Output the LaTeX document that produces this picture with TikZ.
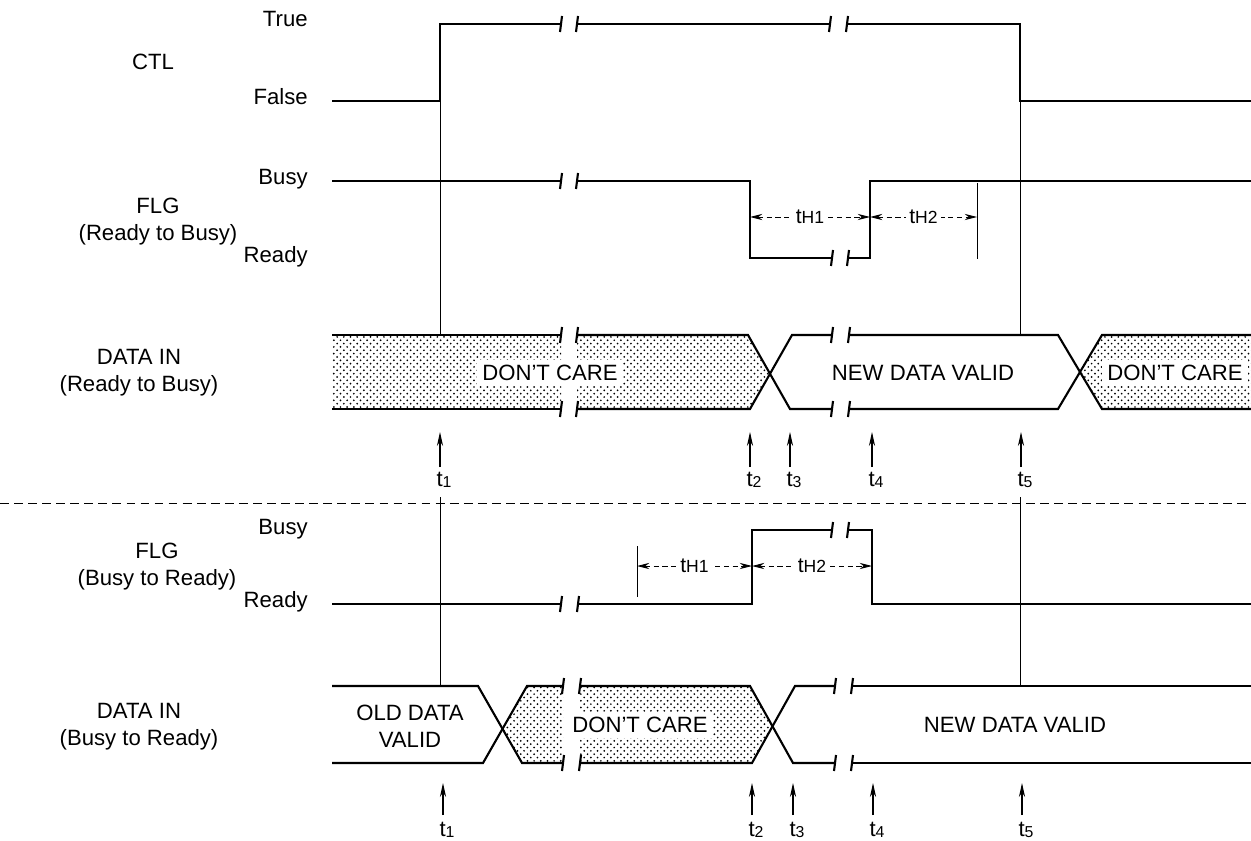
\documentclass[tikz,border=0pt]{standalone}
\usepackage{fontspec}
\setmainfont{Liberation Sans}
\usetikzlibrary{arrows.meta, patterns}

\pgfdeclarepatternformonly{coarsedots}{\pgfqpoint{-1pt}{-1pt}}{\pgfqpoint{5pt}{5pt}}{\pgfqpoint{3.8pt}{3.8pt}}{%
  \pgfpathcircle{\pgfqpoint{0pt}{0pt}}{0.55pt}
  \pgfpathcircle{\pgfqpoint{1.9pt}{1.9pt}}{0.55pt}
  \pgfusepath{fill}
}

\newcommand{\sigbreak}[3]{%
  \draw[sig] (#1+1,#3-8) -- (#1-1,#3+8);
  \draw[sig] (#2+1,#3-8) -- (#2-1,#3+8);
}
\newcommand{\tsub}[1]{t\raisebox{-0.5pt}{\fontsize{9}{9}\selectfont #1}}
\newcommand{\thsub}[1]{t{\fontsize{10}{10}\selectfont H#1}}

\begin{document}
\begin{tikzpicture}[x=0.02cm, y=-0.02cm, every node/.style={font=\fontsize{12.6}{15.3}\selectfont}]
    \tikzstyle{sig} = [line width=1.2pt, line join=miter]
    \tikzstyle{refline} = [line width=0.5pt]
    \tikzstyle{dontcare} = [pattern=coarsedots]
    \tikzstyle{lvl} = [anchor=mid east, inner sep=0pt]
    \tikzstyle{signame} = [align=center, inner sep=0pt]
    \tikzstyle{tmark} = [line width=0.6pt, -{Stealth[length=8pt, width=3.5pt]}]
    \tikzstyle{tlbl} = [inner sep=0pt]
    \tikzstyle{dimline} = [line width=0.5pt, densely dashed, {Stealth[length=7pt, width=3.5pt]}-{Stealth[length=7pt, width=3.5pt]}]
    \tikzstyle{dimlbl} = [fill=white, inner sep=2pt, font=\fontsize{12}{12}\selectfont]
    \tikzstyle{datatxt} = [fill=white, inner sep=3pt, align=center]

    \useasboundingbox (0,0) rectangle (1251,841);

    % signal names and levels
    \node[signame] (ctl) at (153,62) {CTL};
    \node[lvl] (ctltrue) at (308,22) {True};
    \node[lvl] (ctlfalse) at (308,100) {False};
    \node[signame] (flgrb) at (158,222) {FLG\\(Ready to Busy)};
    \node[lvl] (flgrbbusy) at (308,180) {Busy};
    \node[lvl] (flgrbready) at (308,258) {Ready};
    \node[signame] (datarb) at (139,373) {DATA IN\\(Ready to Busy)};
    \node[signame] (flgbr) at (157,567) {FLG\\(Busy to Ready)};
    \node[lvl] (flgbrbusy) at (308,530) {Busy};
    \node[lvl] (flgbrready) at (308,603) {Ready};
    \node[signame] (databr) at (139,727) {DATA IN\\(Busy to Ready)};

    % separator
    \draw[line width=0.5pt, dash pattern=on 5pt off 3pt] (0,503) -- (1251,503);

    % reference lines at t1 and t5
    \draw[refline] (440,101) -- (440,335);
    \draw[refline] (440,497) -- (440,686);
    \draw[refline] (1020,101) -- (1020,335);
    \draw[refline] (1020,497) -- (1020,686);

    % CTL
    \draw[sig] (332,101) -- (440,101) -- (440,24) -- (561,24);
    \draw[sig] (577,24) -- (830,24);
    \draw[sig] (847,24) -- (1020,24) -- (1020,101) -- (1251,101);
    \sigbreak{561}{577}{24}
    \sigbreak{830}{847}{24}

    % FLG (Ready to Busy)
    \draw[sig] (332,181) -- (561,181);
    \draw[sig] (577,181) -- (750,181) -- (750,258) -- (832,258);
    \draw[sig] (848,258) -- (870,258) -- (870,181) -- (1251,181);
    \sigbreak{561}{577}{181}
    \sigbreak{832}{848}{258}
    \draw[refline] (977,183) -- (977,259);
    \draw[dimline] (750,217) -- node[dimlbl] (th1a) {\thsub{1}} (870,217);
    \draw[dimline] (870,217) -- node[dimlbl] (th2a) {\thsub{2}} (977,217);

    % DATA IN (Ready to Busy)
    \fill[dontcare] (332,335) rectangle (561,409);
    \fill[dontcare] (577,335) -- (748,335) -- (770,374) -- (750,409) -- (577,409) -- cycle;
    \fill[dontcare] (1080,372) -- (1102,335) -- (1251,335) -- (1251,409) -- (1102,409) -- cycle;
    \draw[sig] (332,335) -- (561,335);
    \draw[sig] (332,409) -- (561,409);
    \draw[sig] (577,335) -- (748,335) -- (790,409) -- (832,409);
    \draw[sig] (577,409) -- (750,409) -- (792,335) -- (832,335);
    \draw[sig] (849,335) -- (1058,335) -- (1102,409) -- (1251,409);
    \draw[sig] (849,409) -- (1058,409) -- (1102,335) -- (1251,335);
    \sigbreak{561}{577}{335}
    \sigbreak{561}{577}{409}
    \sigbreak{832}{849}{335}
    \sigbreak{832}{849}{409}
    \node[datatxt] (dcarea) at (550,373) {DON'T CARE};
    \node[datatxt] (newa) at (923,373) {NEW DATA VALID};
    \node[datatxt] (dcareb) at (1175,373) {DON'T CARE};

    % time marks, upper half
    \draw[tmark] (440,467) -- (440,432);
    \draw[tmark] (750,467) -- (750,432);
    \draw[tmark] (790,467) -- (790,432);
    \draw[tmark] (872,467) -- (872,432);
    \draw[tmark] (1021,467) -- (1021,432);
    \node[tlbl] (t1a) at (444,480) {\tsub{1}};
    \node[tlbl] (t2a) at (754,480) {\tsub{2}};
    \node[tlbl] (t3a) at (794,480) {\tsub{3}};
    \node[tlbl] (t4a) at (876,480) {\tsub{4}};
    \node[tlbl] (t5a) at (1025,480) {\tsub{5}};

    % FLG (Busy to Ready)
    \draw[sig] (332,604) -- (561,604);
    \draw[sig] (578,604) -- (752,604) -- (752,530) -- (832,530);
    \draw[sig] (848,530) -- (872,530) -- (872,604) -- (1251,604);
    \sigbreak{561}{578}{604}
    \sigbreak{832}{848}{530}
    \draw[refline] (637,546) -- (637,597);
    \draw[dimline] (637,566) -- node[dimlbl] (th1b) {\thsub{1}} (752,566);
    \draw[dimline] (752,566) -- node[dimlbl] (th2b) {\thsub{2}} (872,566);

    % DATA IN (Busy to Ready)
    \fill[dontcare] (502,729) -- (527,686) -- (563,686) -- (563,763) -- (522,763) -- cycle;
    \fill[dontcare] (580,686) -- (750,686) -- (772,726) -- (752,763) -- (580,763) -- cycle;
    \draw[sig] (332,686) -- (478,686) -- (522,763) -- (563,763);
    \draw[sig] (332,763) -- (483,763) -- (527,686) -- (563,686);
    \draw[sig] (580,686) -- (750,686) -- (793,763) -- (835,763);
    \draw[sig] (580,763) -- (752,763) -- (795,686) -- (835,686);
    \draw[sig] (852,686) -- (1251,686);
    \draw[sig] (852,763) -- (1251,763);
    \sigbreak{563}{580}{686}
    \sigbreak{563}{580}{763}
    \sigbreak{835}{852}{686}
    \sigbreak{835}{852}{763}
    \node[signame] (olddata) at (410,726) {OLD DATA\\VALID};
    \node[datatxt] (dcarec) at (640,725) {DON'T CARE};
    \node[datatxt] (newb) at (1015,725) {NEW DATA VALID};

    % time marks, lower half
    \draw[tmark] (443,815) -- (443,783);
    \draw[tmark] (752,815) -- (752,783);
    \draw[tmark] (793,815) -- (793,783);
    \draw[tmark] (873,815) -- (873,783);
    \draw[tmark] (1022,815) -- (1022,783);
    \node[tlbl] (t1b) at (447,830) {\tsub{1}};
    \node[tlbl] (t2b) at (756,830) {\tsub{2}};
    \node[tlbl] (t3b) at (797,830) {\tsub{3}};
    \node[tlbl] (t4b) at (877,830) {\tsub{4}};
    \node[tlbl] (t5b) at (1026,830) {\tsub{5}};
\end{tikzpicture}
\end{document}
